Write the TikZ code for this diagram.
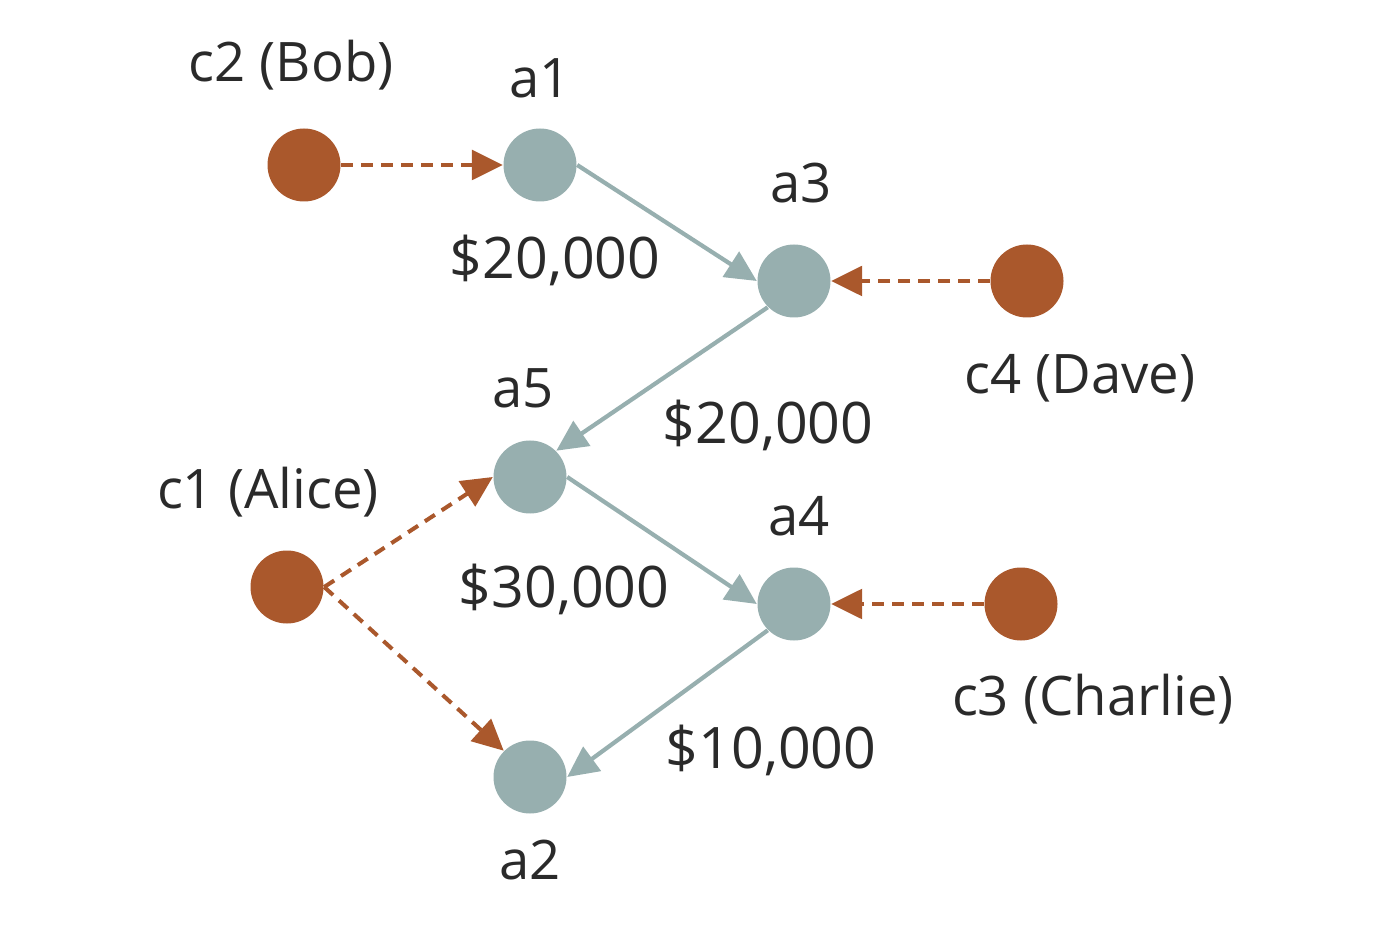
\documentclass[tikz,border=0pt]{standalone}
\usepackage{fontspec}
\setmainfont{Open Sans}
\usetikzlibrary{arrows.meta, positioning}
\definecolor{acctgray}{HTML}{97AFAF}
\definecolor{custbrown}{HTML}{AA582C}
\definecolor{ink}{HTML}{2A2A2A}
\tikzset{%
	acct/.style={circle, minimum size=7.3mm, inner sep=0mm, fill=acctgray},
	cust/.style={circle, minimum size=7.3mm, inner sep=0mm, fill=custbrown},
	transfer/.style={-{Triangle[length=8.8pt, width=8.4pt]}, line width=1.2pt, draw=acctgray},
	owns/.style={-{Triangle[length=8.8pt, width=8.4pt]}, line width=1.15pt, draw=custbrown,%
		dash pattern=on 3.4pt off 2.3pt},
	lbl/.style={text=ink, font=\fontsize{15.5}{18}\selectfont, text height=12pt,%
		text depth=4pt, inner sep=0pt},
	amt/.style={lbl, font=\fontsize{16.3}{19}\selectfont}
}
\begin{document}
\begin{tikzpicture}[node distance=2 and 2, on grid]
	\useasboundingbox (0,0) rectangle (14,9.32);
	\node[acct] (a1) at (5.40,7.67) {};
	\node[cust] (c2) [left=2.36 of a1] {};
	\node[acct] (a3) [below right=1.16 and 2.54 of a1] {};
	\node[cust] (c4) [right=2.33 of a3] {};
	\node[acct] (a5) [below left=1.96 and 2.64 of a3] {};
	\node[cust] (c1) [below left=1.10 and 2.43 of a5] {};
	\node[acct] (a4) [below right=1.27 and 2.64 of a5] {};
	\node[cust] (c3) [right=2.27 of a4] {};
	\node[acct] (a2) [below left=1.73 and 2.64 of a4] {};

	\node[lbl] (c2-lbl) [above left=0.98 and 0.13 of c2] {c2 (Bob)};
	\node[lbl] (a1-lbl) [above=0.82 of a1] {a1};
	\node[amt] (a1-a3-amt) [below right=0.99 and 0.15 of a1] {\$20,000};
	\node[lbl] (a3-lbl) [above right=0.93 and 0.07 of a3] {a3};
	\node[lbl] (c4-lbl) [below right=0.98 and 0.53 of c4] {c4 (Dave)};
	\node[amt] (a3-a5-amt) [below left=1.48 and 0.26 of a3] {\$20,000};
	\node[lbl] (a5-lbl) [above left=0.84 and 0.07 of a5] {a5};
	\node[lbl] (c1-lbl) [above left=0.93 and 0.19 of c1] {c1 (Alice)};
	\node[amt] (a5-a4-amt) [below right=1.16 and 0.34 of a5] {\$30,000};
	\node[lbl] (a4-lbl) [above right=0.83 and 0.05 of a4] {a4};
	\node[lbl] (c3-lbl) [below right=0.97 and 0.72 of c3] {c3 (Charlie)};
	\node[amt] (a4-a2-amt) [below left=1.50 and 0.23 of a4] {\$10,000};
	\node[lbl] (a2-lbl) [below=0.88 of a2] {a2};

	\draw [owns] (c2.east) to (a1.west);
	\draw [owns] (c4.west) to (a3.east);
	\draw [owns] (c1.east) to (a5.west);
	\draw [owns] (c1.east) to (a2.north west);
	\draw [owns] (c3.west) to (a4.east);
	\draw [transfer] (a1.east) to (a3.west);
	\draw [transfer] (a3.south west) to (a5.north east);
	\draw [transfer] (a5.east) to (a4.west);
	\draw [transfer] (a4.south west) to (a2.east);
\end{tikzpicture}
\end{document}
